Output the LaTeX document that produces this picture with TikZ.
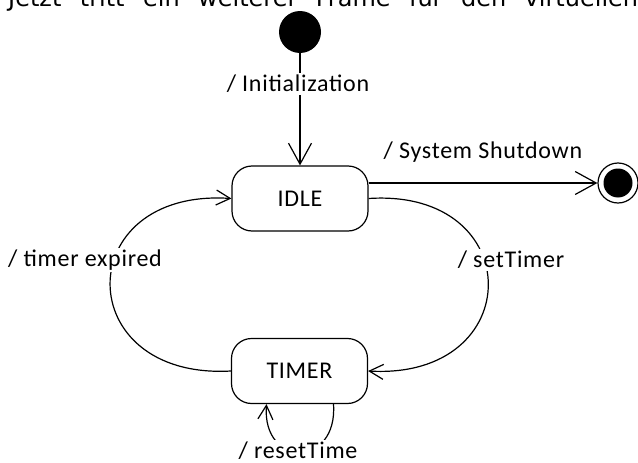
\documentclass[tikz,border=0pt]{standalone}
\usepackage{fontspec}
\setmainfont{Carlito}[LetterSpace=3]
\newfontfamily\headfont{DejaVu Sans}
\usetikzlibrary{arrows.meta}
\begin{document}
\begin{tikzpicture}[x=1pt,y=-1pt,
  txt/.style={font=\fontsize{24}{28}\selectfont},
  state/.style={draw, line width=1.2pt, rounded corners=20pt,
    minimum width=136pt, minimum height=65pt, inner sep=0pt, txt},
  lbl/.style={txt, inner sep=2pt},
  cover/.style={lbl, fill=white},
  edge/.style={line width=1.2pt},
  bigtip/.style={-{Straight Barb[length=21pt,width=23pt]}},
  smalltip/.style={-{Straight Barb[length=14pt,width=15pt]}},
  headline/.style={anchor=base west, inner sep=0pt, font=\headfont\fontsize{24}{28}\selectfont},
]
\useasboundingbox (0,0) rectangle (638,463);

% justified running text line of the page, cut at the top edge
\begin{scope}
  \clip (0,0) rectangle (638,463);
  \node[headline] (head) at (8,6.5)
    {\makebox[630pt][s]{Jetzt tritt ein weiterer Frame für den virtuellen}};
\end{scope}

% states
\node[circle, fill=black, minimum size=42pt, inner sep=0pt] (init) at (300,32) {};
\node[state] (idle)  at (300,198.5) {IDLE};
\node[state] (timer) at (299.5,371) {TIMER};
\node[circle, draw, line width=1.2pt, minimum size=40pt, inner sep=0pt] (final) at (618,183) {};
\node[circle, fill=black, minimum size=29pt, inner sep=0pt] (finalcore) at (final.center) {};

% transitions
\draw[edge, bigtip] (init) -- (idle.north);
\node[cover] (linit) at (298,84) {/ Initialization};

\draw[edge, bigtip] (idle.east |- final.west) -- (final.west);
\node[lbl] (lshut) at (483,152) {/ System Shutdown};

\draw[edge, smalltip] (idle.east) .. controls (528,188) and (528,380) .. (timer.east);
\node[cover] (lset) at (511,260) {/ setTimer};

\draw[edge, smalltip] (timer.west) .. controls (70,380) and (70,188) .. (idle.west);
\node[cover] (lexp) at (85,260) {/ timer expired};

\draw[edge, smalltip] ([xshift=34pt]timer.south) .. controls (338,468) and (262,468) .. ([xshift=-33pt]timer.south);
\node[cover] (lreset) at (298,451) {/ resetTime};
\end{tikzpicture}
\end{document}
